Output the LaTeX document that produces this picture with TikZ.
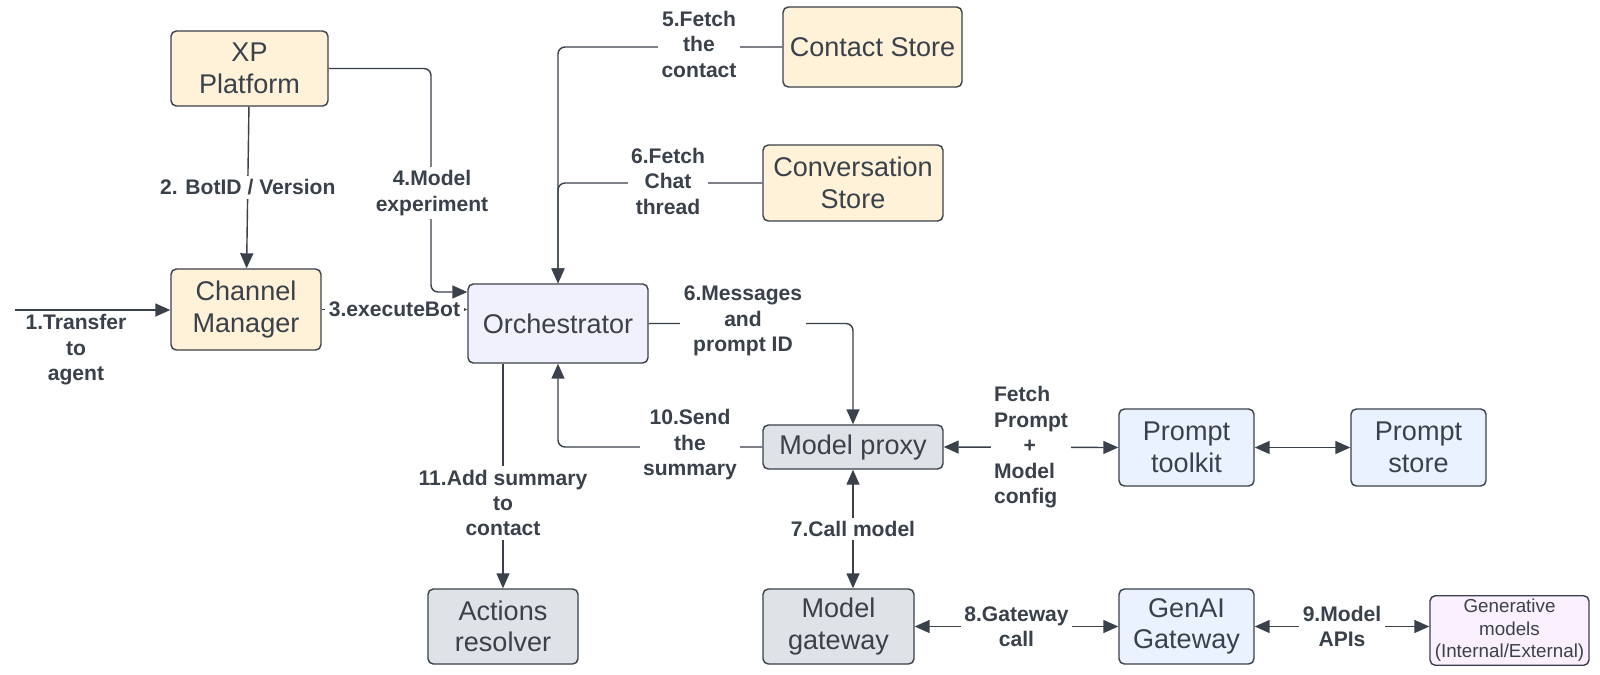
\documentclass[tikz,border=0pt]{standalone}
\usepackage{fontspec}
\setmainfont{Liberation Sans}
\usepackage{xcolor}
\usepackage{tikz}
\usetikzlibrary{calc,arrows.meta,positioning}
\definecolor{inkx}{HTML}{3A414A}
\definecolor{sandx}{HTML}{FFF2D8}
\definecolor{lilacx}{HTML}{F1F0FD}
\definecolor{greyx}{HTML}{DFE2E6}
\definecolor{skyx}{HTML}{EAF2FF}
\definecolor{pinkx}{HTML}{FBF0FF}
\tikzset{
  ar/.style={-{Triangle[length=3mm,width=2.6mm]},line width=0.8pt,inkx},
  dar/.style={{Triangle[length=3mm,width=2.6mm]}-{Triangle[length=3mm,width=2.6mm]},line width=0.8pt,inkx},
  box/.style={draw=inkx,line width=0.8pt,rounded corners=3pt,align=center,inner sep=2pt,
    text=inkx,font=\fontsize{15.4}{18}\selectfont},
  lbl/.style={fill=white,inner sep=2pt,align=center,text=inkx,font=\bfseries\fontsize{12}{14.5}\selectfont}
}
\begin{document}
\begin{tikzpicture}[x=0.02cm,y=-0.02cm]
\useasboundingbox (0,0) rectangle (1600,674);
\node[box,fill=sandx,minimum width=3.14cm,minimum height=1.5cm] (xp) at (249.5,68.5) {XP\\Platform};
\node[box,fill=sandx,minimum width=3.0cm,minimum height=1.62cm] (cm) at (246,309.5) {Channel\\Manager};
\node[box,fill=lilacx,minimum width=3.6cm,minimum height=1.58cm] (orch) at (558,323.5) {Orchestrator};
\node[box,fill=sandx,minimum width=3.58cm,minimum height=1.6cm] (cs) at (872.5,47) {Contact Store};
\node[box,fill=sandx,minimum width=3.6cm,minimum height=1.52cm] (conv) at (853,183) {Conversation\\Store};
\node[box,fill=greyx,minimum width=3.6cm,minimum height=0.88cm] (proxy) at (853,447) {Model proxy};
\node[box,fill=skyx,minimum width=2.7cm,minimum height=1.54cm] (tk) at (1186.5,447.5) {Prompt\\toolkit};
\node[box,fill=skyx,minimum width=2.7cm,minimum height=1.54cm] (ps) at (1418.5,447.5) {Prompt\\store};
\node[box,fill=greyx,minimum width=3.0cm,minimum height=1.5cm] (act) at (503,626.5) {Actions\\resolver};
\node[box,fill=greyx,minimum width=3.02cm,minimum height=1.5cm] (gw) at (838.5,626.5) {Model\\gateway};
\node[box,fill=skyx,minimum width=2.7cm,minimum height=1.5cm] (genai) at (1186.5,626.5) {GenAI\\Gateway};
\node[box,fill=pinkx,minimum width=3.18cm,minimum height=1.34cm,font=\fontsize{10.7}{12.8}\selectfont] (gen) at (1509.5,630.5) {Generative\\models\\(Internal/External)};
\coordinate (src) at (15,310);
\coordinate (k4) at (431,292);
\draw[ar] (src) -- (src -| cm.west);
\node[lbl] (l1) at (76,350) {1.Transfer\\to\\agent};
\draw[ar] (xp) -- (cm) node[lbl,midway] (l2) {2. BotID / Version};
\draw[ar] (cm.east) -- (cm.east -| orch.west) node[lbl,midway] (l3) {3.executeBot};
\draw[ar,rounded corners=4pt] (xp.east) -| (k4) -- (k4 -| orch.west);
\node[lbl] (l4) at (432,193) {4.Model\\experiment};
\draw[ar,rounded corners=4pt] (cs.west) -| (orch.north);
\node[lbl] (l5) at (699,44) {5.Fetch\\the\\contact};
\draw[ar,rounded corners=4pt] (conv.west) -| (orch.north);
\node[lbl] (l6) at (668,181) {6.Fetch\\Chat\\thread};
\draw[ar,rounded corners=4pt] (orch.east) -| (proxy.north);
\node[lbl] (l7) at (743,321) {6.Messages\\and\\prompt ID};
\draw[ar,rounded corners=4pt] (proxy.west) -| (orch.south);
\node[lbl] (l8) at (690,445) {10.Send\\the\\summary};
\draw[ar] (orch.south -| act.north) -- (act.north) node[lbl,pos=0.62] (l9) {11.Add summary\\to\\contact};
\draw[dar] (proxy.east) -- (tk.west) node[lbl,midway,align=left] (l10) {Fetch\\Prompt\\\hspace{1.4em}+\\Model\\config};
\draw[dar] (tk.east) -- (ps.west);
\draw[dar] (proxy.south) -- (proxy.south |- gw.north) node[lbl,midway] (l11) {7.Call model};
\draw[dar] (gw.east) -- (genai.west) node[lbl,midway] (l12) {8.Gateway\\call};
\draw[dar] (genai.east) -- (genai.east -| gen.west) node[lbl,midway] (l13) {9.Model\\APIs};
\end{tikzpicture}
\end{document}
